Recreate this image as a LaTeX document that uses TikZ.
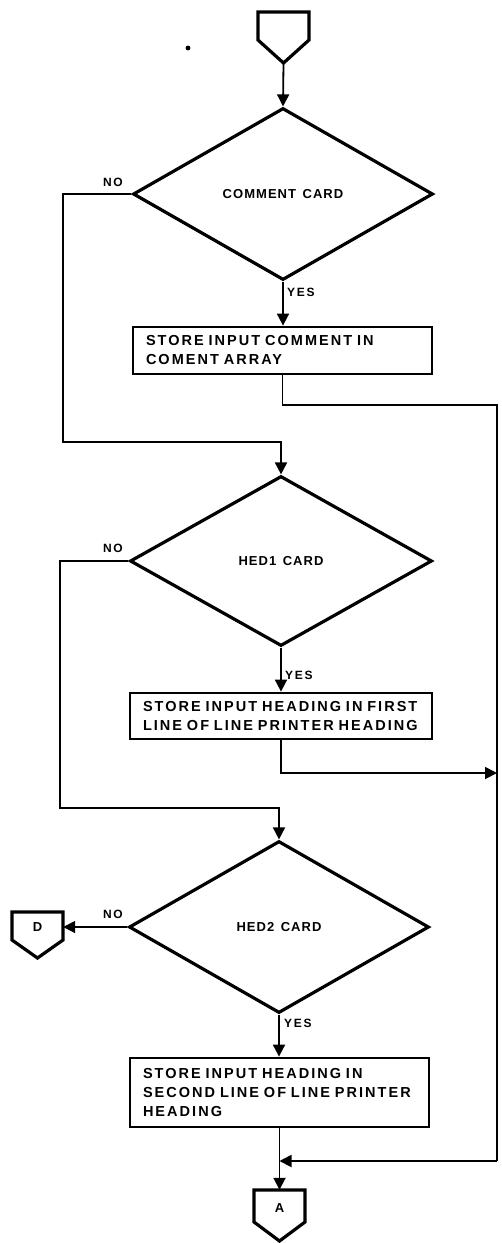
\documentclass[tikz,border=0pt]{standalone}
\usepackage{fontspec}
\newfontfamily\lblfont{Liberation Sans Bold}[LetterSpace=14, WordSpace=1.7]
\newfontfamily\decfont{Liberation Sans Bold}[LetterSpace=8, WordSpace=1.4]
\usetikzlibrary{shapes.geometric,arrows.meta}
\tikzset{
  dec/.style={diamond, draw, line width=3.2pt, inner sep=0pt, aspect=1.75,
    minimum width=300pt, minimum height=172pt,
    font=\decfont\fontsize{13}{15}\selectfont},
  procbox/.style={rectangle, draw, line width=2.8pt, inner xsep=13pt, inner ysep=0pt,
    align=left, font=\lblfont\fontsize{14.5}{19}\selectfont},
  conn/.style={line width=1.8pt},
  arr/.style={conn, -{Triangle[width=12pt,length=12pt]}},
  lbl/.style={font=\lblfont\fontsize{12}{13}\selectfont, inner sep=0pt},
  offpage/.style={line width=3.2pt, line join=miter},
  offnode/.style={inner sep=0pt, minimum width=51pt, font=\lblfont\fontsize{13}{14}\selectfont},
}
\begin{document}
\begin{tikzpicture}[x=1pt,y=-1pt]
\useasboundingbox (0,0) rectangle (501,1243);
% stray dot
\fill (188,48) circle (2.4pt);
% start off-page connector
\node[offnode, minimum height=28pt] (start) at (283.5,26) {};
\draw[offpage] (258,12) -- (309,12) -- (309,40) -- (283.5,63) -- (258,40) -- cycle;
\coordinate (starttip) at (283.5,63);
% decision 1
\node[dec] (d1) at (283,194) {COMMENT CARD};
\draw[arr] (starttip) -- (d1.north);
\node[lbl] (no1) at (113,182) {NO};
\node[lbl, anchor=west] (yes1) at (287,292) {YES};
% box 1
\node[procbox, text width=273pt, minimum height=47pt] (b1) at (282.5,350.5)
  {\mbox{STORE INPUT COMMENT IN}\\\mbox{COMENT ARRAY}};
\draw[arr] (d1.south) -- (d1.south |- b1.north);
% decision 2
\node[dec, minimum width=302pt, minimum height=170pt] (d2) at (281,561) {HED1 CARD};
\draw[arr] (d1.west) -| (63,442) -| (d2.north);
\node[lbl] (no2) at (113,548) {NO};
\node[lbl, anchor=west] (yes2) at (285,675) {YES};
% box 2
\node[procbox, text width=276pt, minimum height=46pt] (b2) at (281,716)
  {\mbox{STORE INPUT HEADING IN FIRST}\\\mbox{LINE OF LINE PRINTER HEADING}};
\draw[arr] (d2.south) -- (d2.south |- b2.north);
% decision 3
\node[dec] (d3) at (279,927) {HED2 CARD};
\draw[arr] (d2.west) -| (60,808) -| (d3.north);
\node[lbl] (no3) at (113,914) {NO};
\node[lbl, anchor=west] (yes3) at (284,1023) {YES};
% D connector
\node[offnode, minimum height=28pt] (D) at (37.5,927) {D};
\draw[offpage] (12,912) -- (63,912) -- (63,940) -- (37.5,958) -- (12,940) -- cycle;
\draw[arr] (d3.west) -- (d3.west -| D.east);
% box 3
\node[procbox, text width=273pt, minimum height=69pt] (b3) at (279.5,1092.5)
  {\mbox{STORE INPUT HEADING IN}\\\mbox{SECOND LINE OF LINE PRINTER}\\\mbox{HEADING}};
\draw[arr] (d3.south) -- (d3.south |- b3.north);
% A connector
\node[offnode, minimum height=36pt] (A) at (279.5,1208) {A};
\draw[offpage] (254,1190) -- (305,1190) -- (305,1222) -- (279.5,1241) -- (254,1222) -- cycle;
\draw[arr] (b3.south) -- (b3.south |- A.north);
% right-hand return line
\coordinate (r1) at (497,405);
\coordinate (r2) at (497,773);
\coordinate (r3) at (497,1161);
\draw[conn] (b1.south) |- (r1) -- (r3);
\draw[arr] (b2.south) |- (r2);
\draw[arr] (r3) -- (b3.south |- r3);
\end{tikzpicture}
\end{document}
